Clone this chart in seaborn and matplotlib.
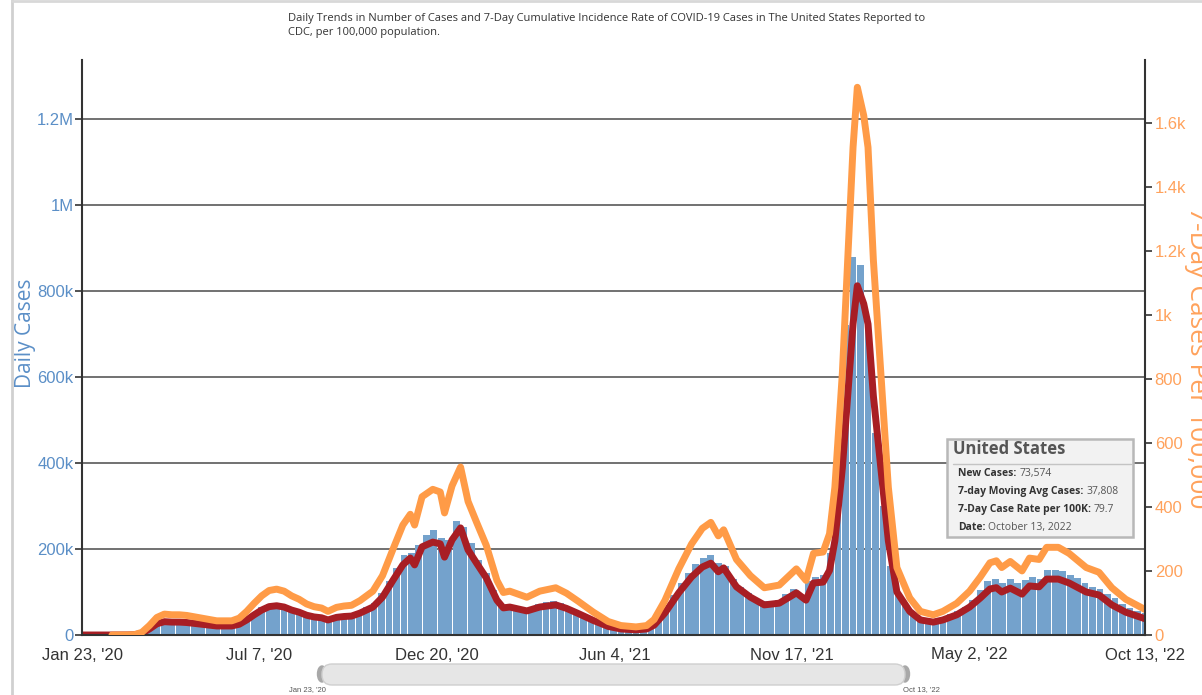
import matplotlib
matplotlib.use("Agg")
import matplotlib.pyplot as plt
from matplotlib.patches import FancyBboxPatch, Rectangle, Ellipse
from matplotlib.lines import Line2D
import seaborn as sns
import numpy as np
import pandas as pd

START = pd.Timestamp("2020-01-23")
W, H = 1202, 695

# daily cases, one bar per week starting Jan 23 '20 (thousands)
weekly_cases_k = [
    0, 0, 0, 0, 0, 0, 0.2, 1, 6, 18, 30, 35, 33, 33, 32, 30, 27, 25, 23, 23,
    23, 28, 40, 52, 64, 73, 75, 70, 63, 57, 50, 46, 44, 38, 45, 47, 48, 56, 64, 74,
    98, 125, 155, 185, 190, 210, 232, 245, 225, 220, 265, 250, 215, 175, 145, 105, 70, 72, 66, 62,
    63, 72, 76, 78, 74, 66, 57, 48, 40, 30, 22, 17, 15, 13, 14, 16, 23, 40, 62, 92,
    120, 145, 165, 178, 185, 168, 160, 130, 112, 98, 85, 78, 80, 82, 95, 108, 92, 125, 135, 140,
    190, 420, 720, 880, 860, 720, 470, 300, 160, 95, 68, 52, 40, 34, 33, 38, 48, 55, 66, 82,
    105, 125, 130, 120, 130, 122, 128, 135, 130, 150, 152, 148, 140, 132, 120, 112, 108, 95, 85, 72,
    62, 55, 50,
]

# 7-day moving average of cases (thousands)
avg_dates = [
    "2020-01-23", "2020-02-20", "2020-03-05", "2020-03-12", "2020-03-19", "2020-03-26",
    "2020-04-02", "2020-04-09", "2020-04-16", "2020-04-23", "2020-04-30", "2020-05-07",
    "2020-05-14", "2020-05-21", "2020-05-28", "2020-06-04", "2020-06-11", "2020-06-18",
    "2020-06-25", "2020-07-02", "2020-07-09", "2020-07-16", "2020-07-23", "2020-07-30",
    "2020-08-06", "2020-08-13", "2020-08-20", "2020-08-27", "2020-09-03", "2020-09-09",
    "2020-09-17", "2020-09-24", "2020-10-01", "2020-10-09", "2020-10-21", "2020-10-30",
    "2020-11-09", "2020-11-18", "2020-11-25", "2020-11-29", "2020-12-06", "2020-12-16",
    "2020-12-23", "2020-12-27", "2021-01-03", "2021-01-11", "2021-01-18", "2021-01-26",
    "2021-02-04", "2021-02-14", "2021-02-20", "2021-02-26", "2021-03-14", "2021-03-26",
    "2021-04-10", "2021-04-20", "2021-05-01", "2021-05-15", "2021-05-29", "2021-06-10",
    "2021-06-24", "2021-07-04", "2021-07-11", "2021-07-21", "2021-08-03", "2021-08-15",
    "2021-08-25", "2021-09-02", "2021-09-09", "2021-09-14", "2021-09-26", "2021-10-09",
    "2021-10-22", "2021-11-05", "2021-11-21", "2021-11-30", "2021-12-07", "2021-12-16",
    "2021-12-22", "2021-12-27", "2022-01-03", "2022-01-08", "2022-01-13", "2022-01-17",
    "2022-01-23", "2022-01-27", "2022-02-01", "2022-02-08", "2022-02-15", "2022-02-23",
    "2022-03-07", "2022-03-17", "2022-03-29", "2022-04-07", "2022-04-20", "2022-05-02",
    "2022-05-12", "2022-05-21", "2022-05-27", "2022-06-01", "2022-06-09", "2022-06-20",
    "2022-06-27", "2022-07-06", "2022-07-13", "2022-07-24", "2022-08-03", "2022-08-19",
    "2022-08-31", "2022-09-12", "2022-09-25", "2022-10-13",
]
avg_cases_k = [
    0, 0, 0.1, 0.5, 4, 14, 26, 31, 30, 30, 29, 27, 25, 23, 21, 21, 21, 25,
    35, 47, 58, 66, 68, 65, 58, 53, 46, 42, 40, 35, 41, 43, 44, 51, 65, 88,
    128, 163, 179, 163, 205, 216, 212, 181, 221, 249, 198, 167, 133, 81, 63, 65,
    56, 65, 70, 62, 50, 34, 20, 14, 12, 14, 23, 51, 98, 135, 158, 167, 147, 156,
    112, 88, 70, 74, 98, 81, 121, 123, 150, 219, 388, 556, 723, 812, 770, 723,
    556, 388, 219, 100, 55, 35, 30, 35, 47, 65, 86, 107, 110, 100, 109, 95,
    114, 112, 130, 130, 121, 100, 93, 70, 53, 37.808,
]

# 7-day case rate per 100k, reported from Feb 20 '20
rate_dates = avg_dates[1:]
rate_per_100k = [
    0, 0.2, 1.1, 8.4, 29.5, 54.8, 65.3, 63.2, 63.2, 61.1, 56.9, 52.7, 48.5, 44.3, 44.3, 44.3, 52.7,
    73.8, 99.1, 122.3, 139.1, 143.3, 137.0, 122.3, 111.7, 97.0, 88.5, 84.3, 73.8, 86.4, 90.6, 92.8, 107.5, 137.0, 185.5,
    269.8, 343.6, 377.3, 343.6, 432.1, 455.3, 446.9, 381.5, 465.9, 524.9, 417.4, 352.0, 280.4, 170.7, 132.8, 137.0,
    118.0, 137.0, 147.6, 130.7, 105.4, 71.7, 42.2, 29.5, 25.3, 29.5, 48.5, 107.5, 206.6, 284.6, 333.1, 352.0, 309.9, 328.8,
    236.1, 185.5, 147.6, 156.0, 206.6, 170.7, 255.1, 259.3, 316.2, 461.7, 817.9, 1172.0, 1524.1, 1711.7, 1623.2, 1524.1,
    1172.0, 817.9, 461.7, 210.8, 115.9, 73.8, 63.2, 73.8, 99.1, 137.0, 181.3, 225.6, 231.9, 210.8, 229.8, 200.3,
    240.3, 236.1, 274.0, 274.0, 255.1, 210.8, 196.0, 147.6, 111.7, 79.7,
]

tick_dates = ["2020-01-23", "2020-07-07", "2020-12-20", "2021-06-04",
              "2021-11-17", "2022-05-02", "2022-10-13"]
tick_labels = ["Jan 23, '20", "Jul 7, '20", "Dec 20, '20", "Jun 4, '21",
               "Nov 17, '21", "May 2, '22", "Oct 13, '22"]
left_ticks = [0, 200e3, 400e3, 600e3, 800e3, 1e6, 1.2e6]
left_labels = ["0", "200k", "400k", "600k", "800k", "1M", "1.2M"]
right_ticks = [0, 200, 400, 600, 800, 1000, 1200, 1400, 1600]
right_labels = ["0", "200", "400", "600", "800", "1k", "1.2k", "1.4k", "1.6k"]

TITLE = ("Daily Trends in Number of Cases and 7-Day Cumulative Incidence Rate of COVID-19 "
         "Cases in The United States Reported to\nCDC, per 100,000 population.")
tooltip_rows = [("New Cases:", "73,574"),
                ("7-day Moving Avg Cases:", "37,808"),
                ("7-Day Case Rate per 100K:", "79.7"),
                ("Date:", "October 13, 2022")]

BAR = "#74a2cc"
RED = "#a81e24"
ORANGE = "#ff9b47"
BLUE_TXT = "#5b8fc7"
ORANGE_TXT = "#ffa25c"
OPEN = ["Open Sans", "DejaVu Sans"]


def to_days(dates):
    return (pd.to_datetime(dates) - START).days.values


def fx(px):
    return px / W


def fy(py):
    return 1 - py / H


sns.set_style("white")
plt.rcParams["font.family"] = ["Liberation Sans", "DejaVu Sans"]

fig = plt.figure(figsize=(W / 100, H / 100), dpi=100)
ax = fig.add_axes([fx(82), fy(635), fx(1145) - fx(82), fy(60) - fy(635)])

bars = pd.DataFrame({"day": np.arange(len(weekly_cases_k)) * 7,
                     "cases": np.array(weekly_cases_k) * 1000})
sns.histplot(data=bars, x="day", weights="cases", binwidth=7,
             binrange=(-3.5, 7 * len(weekly_cases_k) - 3.5), shrink=0.9,
             color=BAR, alpha=1, linewidth=0, ax=ax)

avg_df = pd.DataFrame({"day": to_days(avg_dates), "avg": np.array(avg_cases_k) * 1000})
sns.lineplot(data=avg_df, x="day", y="avg", color=RED, lw=5, ax=ax,
             solid_capstyle="round", solid_joinstyle="round")

ax.set_xlim(0, 994)
ax.set_ylim(0, 1.337e6)
ax.set_yticks(left_ticks, left_labels)
ax.set_xticks(to_days(tick_dates), tick_labels)
ax.set_xlabel("")
ax.set_ylabel("")
ax.yaxis.grid(True, color="#666666", lw=1.3)
ax.set_axisbelow(True)
ax.tick_params(axis="y", length=5, width=1.2, color="#333333", labelcolor=BLUE_TXT,
               labelsize=12, pad=1)
ax.tick_params(axis="x", length=6, width=1.2, color="#333333", labelcolor="#333333",
               labelsize=12, pad=3)
for side in ["top", "right"]:
    ax.spines[side].set_visible(False)
for side in ["left", "bottom"]:
    ax.spines[side].set_color("#333333")
    ax.spines[side].set_linewidth(1.5)

ax2 = ax.twinx()
rate_df = pd.DataFrame({"day": to_days(rate_dates), "rate": rate_per_100k})
sns.lineplot(data=rate_df, x="day", y="rate", color=ORANGE, lw=5, ax=ax2,
             solid_capstyle="round", solid_joinstyle="round")
ax2.set_ylim(0, 1797)
ax2.set_xlim(0, 994)
ax2.set_yticks(right_ticks, right_labels)
ax2.set_ylabel("")
ax2.tick_params(axis="y", length=5, width=1.2, color="#333333", labelcolor=ORANGE_TXT,
                labelsize=12, pad=2)
for side in ["top", "left", "bottom"]:
    ax2.spines[side].set_visible(False)
ax2.spines["right"].set_color("#333333")
ax2.spines["right"].set_linewidth(1.5)

# axis titles
fig.text(fx(26), fy(333), "Daily Cases", rotation=90, ha="center", va="center",
         color=BLUE_TXT, fontsize=15, family=OPEN)
fig.text(fx(1197), fy(358), "7-Day Cases Per 100,000", rotation=-90, ha="center",
         va="center", color=ORANGE_TXT, fontsize=19, family=OPEN)

# title
fig.text(fx(288), fy(13), TITLE, ha="left", va="top", fontsize=8, color="#333333",
         linespacing=1.35, family=OPEN)

# tooltip box
fig.add_artist(Rectangle((fx(947), fy(537)), fx(1133) - fx(947), fy(439) - fy(537),
                         transform=fig.transFigure, facecolor="#f2f2f2",
                         edgecolor="#b8b8b8", lw=1.8, zorder=10))
fig.text(fx(953), fy(449), "United States", ha="left", va="center", fontsize=12,
         weight="bold", color="#555555", family=OPEN, zorder=11)
fig.add_artist(Line2D([fx(953), fx(1131)], [fy(464), fy(464)], transform=fig.transFigure,
                      color="#c4c4c4", lw=1, zorder=11))
fig.canvas.draw()
renderer = fig.canvas.get_renderer()
for (label, value), py in zip(tooltip_rows, [476, 494, 512, 530]):
    t = fig.text(fx(958), fy(py), label, ha="left", va="baseline", fontsize=7.5,
                 weight="bold", color="#333333", family=OPEN, zorder=11)
    x_end = t.get_window_extent(renderer).x1 / fig.bbox.width
    fig.text(x_end + fx(3), fy(py), value, ha="left", va="baseline", fontsize=7.5,
             color="#555555", family=OPEN, zorder=11)

# navigator scrollbar
fig.add_artist(Ellipse((fx(322), fy(674)), fx(9), 16 / H, transform=fig.transFigure,
                       color="#a8a8a8", zorder=1))
fig.add_artist(Ellipse((fx(905), fy(674)), fx(9), 16 / H, transform=fig.transFigure,
                       color="#a8a8a8", zorder=1))
fig.add_artist(FancyBboxPatch((fx(322), fy(685)), fx(905) - fx(322), 21 / H,
                              boxstyle="round,pad=0,rounding_size=%f" % fx(10),
                              mutation_aspect=W / H, transform=fig.transFigure,
                              facecolor="#e6e6e6", edgecolor="#cfcfcf", lw=1, zorder=2))
fig.text(fx(307), fy(690), "Jan 23, '20", ha="center", va="center", fontsize=5.5,
         color="#555555")
fig.text(fx(921), fy(690), "Oct 13, '22", ha="center", va="center", fontsize=5.5,
         color="#555555")

# container border
fig.add_artist(Line2D([fx(12), fx(12)], [0, 1], transform=fig.transFigure,
                      color="#d0d0d0", lw=2))
fig.add_artist(Line2D([fx(12), 1], [fy(1), fy(1)], transform=fig.transFigure,
                      color="#d8d8d8", lw=2))

fig.savefig("out.png", dpi=100)
